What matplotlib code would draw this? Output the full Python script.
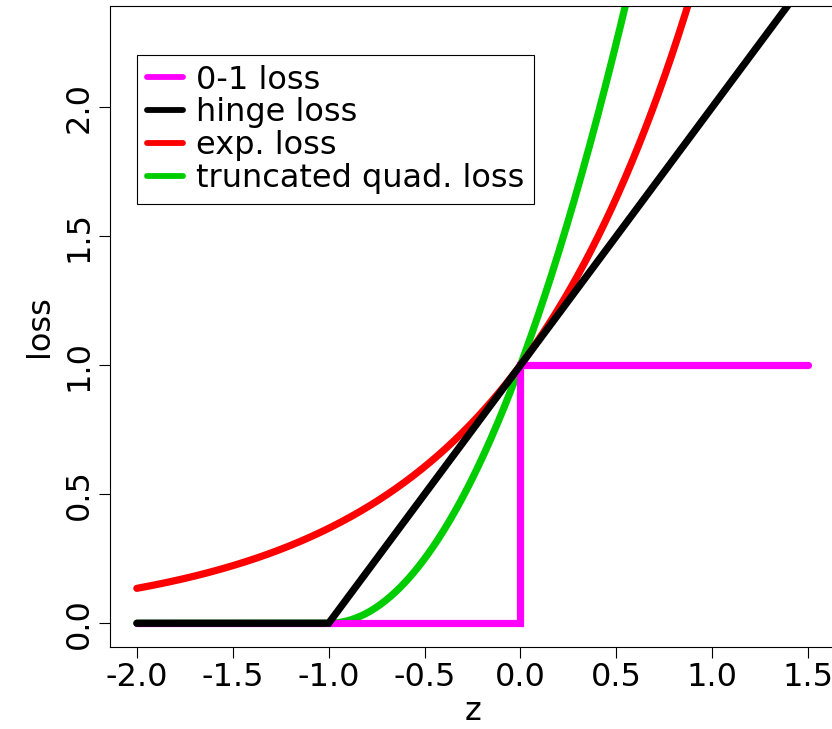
import numpy as np
import matplotlib
matplotlib.use("Agg")
import matplotlib.pyplot as plt

plt.rcParams['font.family'] = ['DejaVu Sans']

# data
z = np.linspace(-2.0, 1.5, 701)
zero_one_z = [-2.0, 0.0, 0.0, 1.5]
zero_one_loss = [0.0, 0.0, 1.0, 1.0]
hinge_loss = np.maximum(0.0, 1.0 + z)
exp_loss = np.exp(z)
tquad_loss = np.maximum(0.0, 1.0 + z) ** 2
labels = ["0-1 loss", "hinge loss", "exp. loss", "truncated quad. loss"]
colors = ["#FF00FF", "#000000", "#FF0000", "#00CD00"]
xticks = [-2.0, -1.5, -1.0, -0.5, 0.0, 0.5, 1.0, 1.5]
yticks = [0.0, 0.5, 1.0, 1.5, 2.0]

W, H = 832, 729
fig = plt.figure(figsize=(W / 100, H / 100), dpi=100)
left, right, top, bottom = 110, 835, 6, 647
ax = fig.add_axes([left / W, 1 - bottom / H, (right - left) / W, (bottom - top) / H])

lw = 5.2
kw = dict(lw=lw, solid_capstyle='round', solid_joinstyle='miter')
l_tq, = ax.plot(z, tquad_loss, color=colors[3], label=labels[3], zorder=2, **kw)
l_exp, = ax.plot(z, exp_loss, color=colors[2], label=labels[2], zorder=2.1, **kw)
l_01, = ax.plot(zero_one_z, zero_one_loss, color=colors[0], label=labels[0], zorder=2.2, **kw)
l_h, = ax.plot(z, hinge_loss, color=colors[1], label=labels[1], zorder=2.3, **kw)

ax.set_xlim(-2.14, 1.64)
ax.set_ylim(-0.092, 2.392)
ax.set_xticks(xticks)
ax.set_xticklabels([f"{v:.1f}" for v in xticks])
ax.set_yticks(yticks)
ax.set_yticklabels([f"{v:.1f}" for v in yticks], rotation=90, va='center')
fs = 23
ax.tick_params(direction='out', length=8, width=0.8, labelsize=fs, pad=3)
for s in ax.spines.values():
    s.set_linewidth(0.8)
ax.set_xlabel("z", fontsize=fs, labelpad=2)
ax.set_ylabel("loss", fontsize=fs, labelpad=6)

leg = ax.legend([l_01, l_h, l_exp, l_tq], [labels[0], labels[1], labels[2], labels[3]],
                loc='upper left', bbox_to_anchor=((137 - left) / (right - left), 1 - (55 - top) / (bottom - top)),
                fontsize=fs, frameon=True, fancybox=False, edgecolor='black', framealpha=1,
                borderaxespad=0, handlelength=1.15, handletextpad=0.4, labelspacing=0.06,
                borderpad=0.3)
leg.get_frame().set_linewidth(0.8)
for l in leg.get_lines():
    l.set_linewidth(4.2)

fig.savefig("out.png", dpi=100)
